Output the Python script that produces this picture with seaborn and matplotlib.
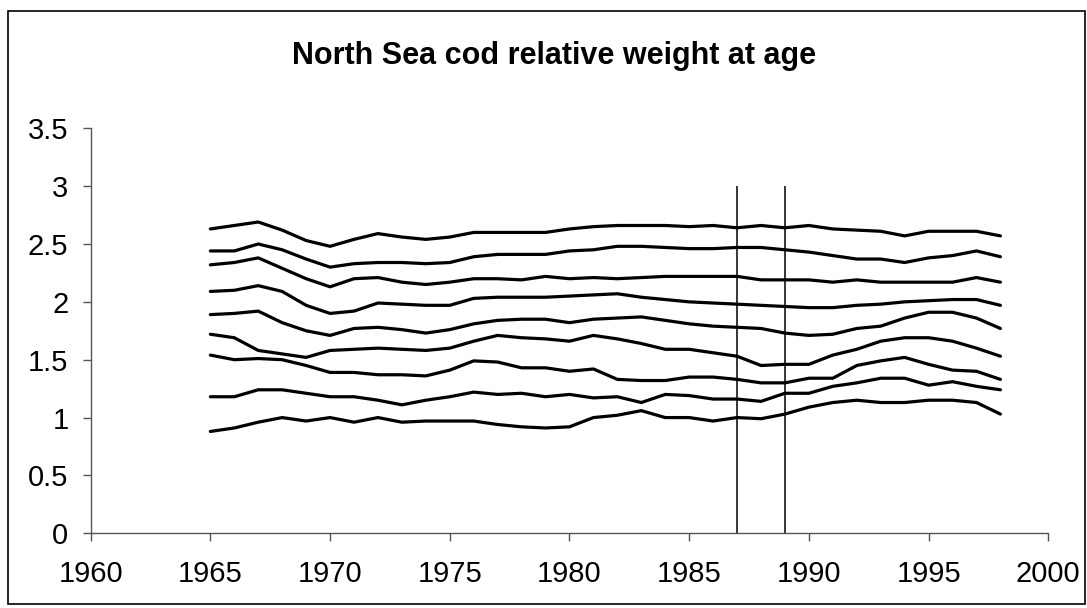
import matplotlib
matplotlib.use("Agg")
import matplotlib.pyplot as plt
import pandas as pd
import seaborn as sns
from matplotlib.patches import Rectangle

# ---------------- data ----------------
years = list(range(1965, 1999))

age1 = [0.88, 0.91, 0.96, 1.00, 0.97, 1.00, 0.96, 1.00, 0.96, 0.97, 0.97, 0.97,
        0.94, 0.92, 0.91, 0.92, 1.00, 1.02, 1.06, 1.00, 1.00, 0.97, 1.00, 0.99,
        1.03, 1.09, 1.13, 1.15, 1.13, 1.13, 1.15, 1.15, 1.13, 1.03]
age2 = [1.18, 1.18, 1.24, 1.24, 1.21, 1.18, 1.18, 1.15, 1.11, 1.15, 1.18, 1.22,
        1.20, 1.21, 1.18, 1.20, 1.17, 1.18, 1.13, 1.20, 1.19, 1.16, 1.16, 1.14,
        1.21, 1.21, 1.27, 1.30, 1.34, 1.34, 1.28, 1.31, 1.27, 1.24]
age3 = [1.54, 1.50, 1.51, 1.50, 1.45, 1.39, 1.39, 1.37, 1.37, 1.36, 1.41, 1.49,
        1.48, 1.43, 1.43, 1.40, 1.42, 1.33, 1.32, 1.32, 1.35, 1.35, 1.33, 1.30,
        1.30, 1.34, 1.34, 1.45, 1.49, 1.52, 1.46, 1.41, 1.40, 1.33]
age4 = [1.72, 1.69, 1.58, 1.55, 1.52, 1.58, 1.59, 1.60, 1.59, 1.58, 1.60, 1.66,
        1.71, 1.69, 1.68, 1.66, 1.71, 1.68, 1.64, 1.59, 1.59, 1.56, 1.53, 1.45,
        1.46, 1.46, 1.54, 1.59, 1.66, 1.69, 1.69, 1.66, 1.60, 1.53]
age5 = [1.89, 1.90, 1.92, 1.82, 1.75, 1.71, 1.77, 1.78, 1.76, 1.73, 1.76, 1.81,
        1.84, 1.85, 1.85, 1.82, 1.85, 1.86, 1.87, 1.84, 1.81, 1.79, 1.78, 1.77,
        1.73, 1.71, 1.72, 1.77, 1.79, 1.86, 1.91, 1.91, 1.86, 1.77]
age6 = [2.09, 2.10, 2.14, 2.09, 1.97, 1.90, 1.92, 1.99, 1.98, 1.97, 1.97, 2.03,
        2.04, 2.04, 2.04, 2.05, 2.06, 2.07, 2.04, 2.02, 2.00, 1.99, 1.98, 1.97,
        1.96, 1.95, 1.95, 1.97, 1.98, 2.00, 2.01, 2.02, 2.02, 1.97]
age7 = [2.32, 2.34, 2.38, 2.29, 2.20, 2.13, 2.20, 2.21, 2.17, 2.15, 2.17, 2.20,
        2.20, 2.19, 2.22, 2.20, 2.21, 2.20, 2.21, 2.22, 2.22, 2.22, 2.22, 2.19,
        2.19, 2.19, 2.17, 2.19, 2.17, 2.17, 2.17, 2.17, 2.21, 2.17]
age8 = [2.44, 2.44, 2.50, 2.45, 2.37, 2.30, 2.33, 2.34, 2.34, 2.33, 2.34, 2.39,
        2.41, 2.41, 2.41, 2.44, 2.45, 2.48, 2.48, 2.47, 2.46, 2.46, 2.47, 2.47,
        2.45, 2.43, 2.40, 2.37, 2.37, 2.34, 2.38, 2.40, 2.44, 2.39]
age9 = [2.63, 2.66, 2.69, 2.62, 2.53, 2.48, 2.54, 2.59, 2.56, 2.54, 2.56, 2.60,
        2.60, 2.60, 2.60, 2.63, 2.65, 2.66, 2.66, 2.66, 2.65, 2.66, 2.64, 2.66,
        2.64, 2.66, 2.63, 2.62, 2.61, 2.57, 2.61, 2.61, 2.61, 2.57]

marker_years = [1987, 1989]
marker_top = 3

# ---------------- build long table ----------------
series = [age1, age2, age3, age4, age5, age6, age7, age8, age9]
rows = []
for i, vals in enumerate(series):
    for y, v in zip(years, vals):
        rows.append({"Year": y, "Weight": v, "Age": "age%d" % (i + 1)})
df = pd.DataFrame(rows)

# ---------------- plot ----------------
sns.set_style("white")
plt.rcParams['font.family'] = ['Liberation Sans', 'DejaVu Sans']

fig = plt.figure(figsize=(10.87, 6.08), dpi=100)
ax = fig.add_axes([0.0834, 0.1229, 0.881, 0.6661])

sns.lineplot(data=df, x="Year", y="Weight", hue="Age",
             palette=["black"] * len(series), linewidth=2.3,
             legend=False, ax=ax)

ax.vlines(marker_years, 0, marker_top, colors="black", linewidth=1.1)

ax.set_xlim(1960, 2000)
ax.set_ylim(0, 3.5)
ax.set_xticks(range(1960, 2001, 5))
ax.set_yticks([0, 0.5, 1, 1.5, 2, 2.5, 3, 3.5])
ax.set_yticklabels(["0", "0.5", "1", "1.5", "2", "2.5", "3", "3.5"])
ax.set_xlabel("")
ax.set_ylabel("")

for s in ["top", "right"]:
    ax.spines[s].set_visible(False)
for s in ["left", "bottom"]:
    ax.spines[s].set_color("#555555")
    ax.spines[s].set_linewidth(1.0)

ax.tick_params(axis="both", which="major", direction="out", length=6,
               width=1.0, color="#555555", labelsize=21, labelcolor="black",
               bottom=True, left=True)
ax.tick_params(axis="x", pad=13)
ax.tick_params(axis="y", pad=10)

fig.text(0.51, 0.908, "North Sea cod relative weight at age",
         ha="center", va="center", fontsize=22, fontweight="bold",
         color="black")

# outer chart border
fig.patches.append(Rectangle((0.0075, 0.006), 0.9905, 0.976,
                             transform=fig.transFigure, fill=False,
                             edgecolor="black", linewidth=1.2))

fig.savefig("out.png", dpi=100)
